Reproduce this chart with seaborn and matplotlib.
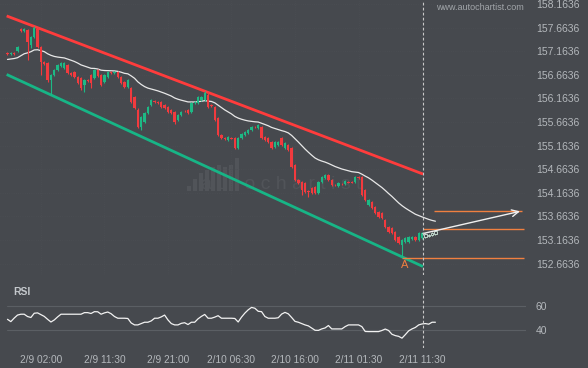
import numpy as np
import pandas as pd
import matplotlib
matplotlib.use("Agg")
import matplotlib.pyplot as plt
import seaborn as sns

"""Data read off the chart (30 min candles)"""
opens = [157.13, 157.10, 157.12, 157.17, 157.63, 157.59, 157.61, 157.30, 157.46, 157.63,
         157.25, 156.93, 156.91, 156.55, 156.66, 156.76, 156.85, 156.81, 156.87, 156.70,
         156.72, 156.62, 156.60, 156.45, 156.55, 156.66, 156.60, 156.77, 156.66, 156.51,
         156.62, 156.72, 156.70, 156.72, 156.62, 156.51, 156.40, 156.38, 156.19, 155.92,
         155.56, 155.66, 155.85, 156.02, 156.11, 156.09, 156.09, 156.02, 155.98, 155.92,
         155.87, 155.71, 155.81, 155.90, 155.92, 155.87, 156.07, 156.07, 156.13, 156.13,
         156.24, 156.02, 155.98, 155.75, 155.39, 155.32, 155.28, 155.32, 155.32, 155.11,
         155.32, 155.39, 155.43, 155.49, 155.56, 155.54, 155.56, 155.35, 155.32, 155.24,
         155.13, 155.18, 155.32, 155.11, 155.18, 155.11, 154.75, 154.43, 154.39, 154.37,
         154.20, 154.26, 154.29, 154.16, 154.39, 154.48, 154.54, 154.43, 154.33, 154.31,
         154.35, 154.35, 154.39, 154.39, 154.39, 154.50, 154.50, 154.22, 153.90, 153.97,
         153.86, 153.76, 153.73, 153.59, 153.44, 153.42, 153.33, 153.23, 153.06, 153.12,
         153.12, 153.18, 153.23, 153.16, 153.21, 153.23, 153.25, 153.27, 153.29]
closes = [157.10, 157.13, 157.11, 157.25, 157.59, 157.63, 157.36, 157.46, 157.66, 157.25,
          156.93, 156.89, 156.55, 156.66, 156.76, 156.87, 156.91, 156.91, 156.70, 156.66,
          156.62, 156.49, 156.38, 156.55, 156.53, 156.49, 156.77, 156.64, 156.45, 156.66,
          156.72, 156.70, 156.72, 156.62, 156.49, 156.40, 156.55, 156.09, 155.96, 155.56,
          155.77, 155.85, 155.98, 156.13, 156.09, 156.07, 155.98, 155.96, 155.87, 155.85,
          155.66, 155.81, 155.87, 155.89, 155.85, 156.07, 156.09, 156.19, 156.19, 156.28,
          155.98, 156.01, 155.71, 155.39, 155.32, 155.31, 155.35, 155.31, 155.11, 155.32,
          155.41, 155.45, 155.49, 155.56, 155.55, 155.60, 155.32, 155.28, 155.24, 155.11,
          155.24, 155.24, 155.18, 155.22, 155.07, 154.71, 154.43, 154.37, 154.22, 154.18,
          154.18, 154.16, 154.16, 154.39, 154.50, 154.54, 154.43, 154.33, 154.32, 154.37,
          154.34, 154.41, 154.38, 154.38, 154.50, 154.48, 154.12, 154.01, 154.01, 153.84,
          153.73, 153.65, 153.63, 153.44, 153.33, 153.31, 153.16, 153.10, 153.16, 153.21,
          153.23, 153.23, 153.16, 153.31, 153.31, 153.29, 153.27, 153.31, 153.35]
highs = [157.15, 157.15, 157.15, 157.27, 157.66, 157.66, 157.63, 157.49, 157.70, 157.68,
         157.27, 156.95, 156.93, 156.68, 156.78, 156.89, 156.93, 156.93, 156.89, 156.72,
         156.74, 156.64, 156.62, 156.57, 156.57, 156.68, 156.79, 156.79, 156.68, 156.68,
         156.74, 156.74, 156.74, 156.74, 156.64, 156.53, 156.57, 156.40, 156.21, 155.96,
         155.79, 155.87, 156.00, 156.15, 156.13, 156.11, 156.11, 156.04, 156.00, 155.94,
         155.89, 155.83, 155.89, 155.92, 155.94, 156.09, 156.11, 156.21, 156.21, 156.32,
         156.32, 156.04, 156.00, 155.77, 155.41, 155.34, 155.37, 155.34, 155.34, 155.34,
         155.43, 155.47, 155.51, 155.58, 155.58, 155.62, 155.58, 155.37, 155.34, 155.26,
         155.26, 155.26, 155.34, 155.24, 155.20, 155.13, 154.77, 154.45, 154.41, 154.39,
         154.22, 154.28, 154.31, 154.41, 154.52, 154.56, 154.56, 154.45, 154.35, 154.39,
         154.37, 154.43, 154.41, 154.41, 154.52, 154.52, 154.52, 154.24, 154.03, 153.99,
         153.88, 153.78, 153.75, 153.61, 153.46, 153.44, 153.35, 153.25, 153.18, 153.23,
         153.25, 153.25, 153.25, 153.33, 153.33, 153.31, 153.30, 153.33, 153.37]
lows = [157.08, 157.08, 157.08, 157.15, 157.57, 157.57, 156.98, 157.23, 157.44, 157.23,
        156.66, 156.87, 156.51, 156.24, 156.64, 156.74, 156.83, 156.79, 156.68, 156.64,
        156.59, 156.47, 156.34, 156.30, 156.51, 156.38, 156.57, 156.62, 156.43, 156.49,
        156.59, 156.68, 156.68, 156.59, 156.47, 156.38, 156.38, 156.07, 155.94, 155.54,
        155.49, 155.64, 155.83, 156.00, 156.07, 156.04, 155.96, 155.94, 155.85, 155.83,
        155.62, 155.68, 155.79, 155.87, 155.83, 155.85, 156.04, 156.04, 156.11, 156.11,
        155.96, 155.99, 155.68, 155.37, 155.30, 155.28, 155.26, 155.30, 155.09, 155.09,
        155.30, 155.37, 155.41, 155.47, 155.53, 155.51, 155.30, 155.26, 155.22, 155.09,
        155.11, 155.15, 155.15, 155.09, 155.05, 154.69, 154.41, 154.35, 154.12, 154.16,
        154.07, 154.14, 154.14, 154.14, 154.37, 154.45, 154.41, 154.31, 154.30, 154.29,
        154.32, 154.33, 154.36, 154.36, 154.37, 154.46, 154.10, 153.99, 153.88, 153.82,
        153.71, 153.63, 153.61, 153.42, 153.31, 153.29, 153.14, 153.08, 152.78, 153.10,
        153.10, 153.16, 153.14, 153.14, 153.19, 153.21, 153.23, 153.25, 153.27]
rsi = [49.0, 47.1, 50.0, 52.5, 53.2, 53.2, 51.3, 50.5, 54.0, 54.3,
       52.8, 51.4, 49.0, 46.8, 48.5, 51.0, 53.2, 53.2, 53.2, 53.2,
       53.2, 53.2, 53.2, 54.5, 54.5, 53.8, 55.3, 55.2, 53.2, 54.3,
       55.0, 53.6, 51.3, 49.9, 49.9, 49.9, 49.7, 46.0, 44.4, 44.4,
       45.5, 46.6, 46.6, 47.7, 49.9, 49.9, 51.0, 52.5, 48.5, 45.5,
       44.4, 44.4, 45.7, 46.2, 44.7, 46.6, 46.6, 49.4, 51.4, 53.0,
       49.9, 49.9, 50.8, 52.0, 49.9, 49.9, 49.9, 49.9, 49.7, 46.8,
       50.8, 54.1, 56.8, 58.8, 58.1, 55.6, 55.3, 51.3, 49.9, 49.9,
       49.9, 50.3, 53.3, 54.7, 53.5, 50.5, 47.3, 46.6, 45.5, 44.4,
       43.6, 41.8, 40.0, 39.9, 41.1, 41.9, 43.9, 41.1, 41.1, 41.1,
       41.1, 43.0, 44.4, 44.4, 44.4, 44.4, 43.0, 39.0, 38.9, 38.9,
       38.9, 38.9, 39.8, 41.0, 39.8, 36.7, 35.6, 35.0, 33.5, 36.4,
       39.5, 41.1, 42.3, 44.4, 45.2, 45.5, 45.0, 46.6, 46.6]
n_solid = 125          # candles up to 2/11 11:30, the rest are drawn hollow
ma_start = 156.98      # moving average value at the first candle

date_pos = [10, 29, 48, 67, 86, 105, 124]
date_labels = ["2/9 02:00", "2/9 11:30", "2/9 21:00", "2/10 06:30",
               "2/10 16:00", "2/11 01:30", "2/11 11:30"]
price_ticks = [152.6636, 153.1636, 153.6636, 154.1636, 154.6636, 155.1636,
               155.6636, 156.1636, 156.6636, 157.1636, 157.6636, 158.1636]

upper_x, upper_y = [-0.25, 124.3], [157.91, 154.56]
lower_x, lower_y = [-0.25, 124.3], [156.67, 152.60]
mark_pos = 124.3
current_level = 153.39
target_level = 153.77
target_x = [127.6, 153.9]
arrow_x, arrow_y = [124.3, 153.3], [153.30, 153.77]
logo_heights = [5, 12, 17, 20, 23, 25, 23, 25, 32]

"""Style"""
bg = "#46494e"
green = "#1db985"
red = "#f23a3e"
orange = "#f08040"
txt = "#b4b8bc"
faint = "#515459"

sns.set_theme(style="dark")
plt.rcParams["font.family"] = ["Liberation Sans", "DejaVu Sans"]

df = pd.DataFrame({"open": opens, "close": closes, "high": highs, "low": lows, "rsi": rsi})
df["i"] = np.arange(len(df))
df["ma"] = pd.Series([ma_start] + closes).ewm(span=26, adjust=False).mean().iloc[1:].values
df["up"] = df["close"] >= df["open"]
df["bottom"] = df[["open", "close"]].min(axis=1)
df["height"] = (df["close"] - df["open"]).abs().clip(lower=0.012)

fig = plt.figure(figsize=(5.88, 3.68), dpi=100, facecolor=bg)
ax = fig.add_axes([0, 1 - 275 / 368, 526 / 588, 275 / 368], facecolor=bg)
ax_r = fig.add_axes([0, 1 - 348 / 368, 526 / 588, 70 / 368], facecolor=bg, sharex=ax)

# watermark
ax.text(0.535, 0.33, "a u t o c h a r t i s t", transform=ax.transAxes, ha="center",
        va="center", fontsize=14, color=faint, zorder=0)
logo = fig.add_axes([186 / 588, 1 - 191 / 368, 54 / 588, 34 / 368], zorder=0)
logo.bar(range(len(logo_heights)), logo_heights, width=0.55, color=faint, lw=0)
logo.set_xlim(-0.5, 8.5)
logo.set_ylim(0, 33)
logo.axis("off")
logo.patch.set_alpha(0)
ax.set_zorder(1)
ax.patch.set_alpha(0)

# channel
ax.plot(upper_x, upper_y, color="#ff3c3c", lw=2.0, solid_capstyle="butt", zorder=2)
ax.plot(lower_x, lower_y, color="#17b586", lw=2.0, solid_capstyle="butt", zorder=2)

# moving average
sns.lineplot(data=df, x="i", y="ma", ax=ax, color="#e8e8e8", lw=0.9, zorder=3)

# candles
solid = df.iloc[:n_solid]
hollow = df.iloc[n_solid:]
wick_cols = np.where(solid["up"], green, red)
ax.vlines(solid["i"], solid["low"], solid["high"], colors=wick_cols, lw=0.8, zorder=4)
for flag, col in [(True, green), (False, red)]:
    part = solid[solid["up"] == flag]
    ax.bar(part["i"], part["height"], bottom=part["bottom"], width=0.7, color=col,
           lw=0, zorder=5)
ax.vlines(hollow["i"], hollow["low"], hollow["high"], colors="#cfe9da", lw=0.6, zorder=4)
ax.bar(hollow["i"], hollow["height"], bottom=hollow["bottom"], width=0.7,
       facecolor=bg, edgecolor="#cfe9da", lw=0.6, zorder=5)

# pattern point A and levels
a_i = int(np.argmin(lows))
a_low = lows[a_i]
ax.hlines(a_low, a_i, 154.5, color=orange, lw=1.0, zorder=3)
ax.hlines(current_level, mark_pos, 154.5, color=orange, lw=1.0, zorder=3)
ax.hlines(target_level, target_x[0], target_x[1], color=orange, lw=1.0, zorder=3)
ax.text(a_i + 0.7, a_low - 0.04, "A", color=orange, fontsize=8, ha="center", va="top")
ax.annotate("", xy=(arrow_x[1], arrow_y[1]), xytext=(arrow_x[0], arrow_y[0]),
            arrowprops=dict(arrowstyle="->", color="#f0f0f0", lw=1.0,
                            mutation_scale=12, shrinkA=0, shrinkB=0), zorder=6)

# current time marker
for a in (ax, ax_r):
    a.axvline(mark_pos, color="#c8c8c8", lw=0.8, ls=(0, (2.5, 2)), zorder=6)

ax.set_xlim(-2.24, 155.1)
ax.set_ylim(152.421, 158.248)
ax.yaxis.tick_right()
ax.set_yticks(price_ticks)
ax.set_yticklabels([f"{v:.4f}" for v in price_ticks])
ax.set_xticks(date_pos)
ax.tick_params(axis="y", length=0, pad=7, labelsize=7.5, labelcolor=txt)
ax.tick_params(axis="x", length=0, labelbottom=False)
ax.grid(True, color="#4b4e53", lw=0.6, ls=":")
ax.set_xlabel("")
ax.set_ylabel("")

# RSI panel
sns.lineplot(data=df, x="i", y="rsi", ax=ax_r, color="#f2f2f2", lw=0.9, zorder=3)
ax_r.set_ylim(25.4, 83.0)
ax_r.yaxis.tick_right()
ax_r.set_yticks([40, 60])
ax_r.set_yticklabels(["40", "60"])
ax_r.grid(False)
for lvl in (40, 60):
    ax_r.axhline(lvl, xmin=7 / 526, color="#5b5f64", lw=0.8, zorder=1)
ax_r.set_xticks(date_pos)
ax_r.set_xticklabels(date_labels)
ax_r.tick_params(axis="y", length=0, pad=7, labelsize=7.5, labelcolor=txt)
ax_r.tick_params(axis="x", length=0, pad=5, labelsize=7.3, labelcolor=txt)
ax_r.set_xlabel("")
ax_r.set_ylabel("")

for a in (ax, ax_r):
    for s in a.spines.values():
        s.set_visible(False)

fig.text(13 / 588, 1 - 292 / 368, "RSI", color="#c4c8cc", fontsize=7.5,
         fontweight="bold", va="center")
fig.text(524 / 588, 1 - 7 / 368, "www.autochartist.com", color="#a2a6aa",
         fontsize=6.5, ha="right", va="center")

fig.savefig("out.png", dpi=100, facecolor=bg)
